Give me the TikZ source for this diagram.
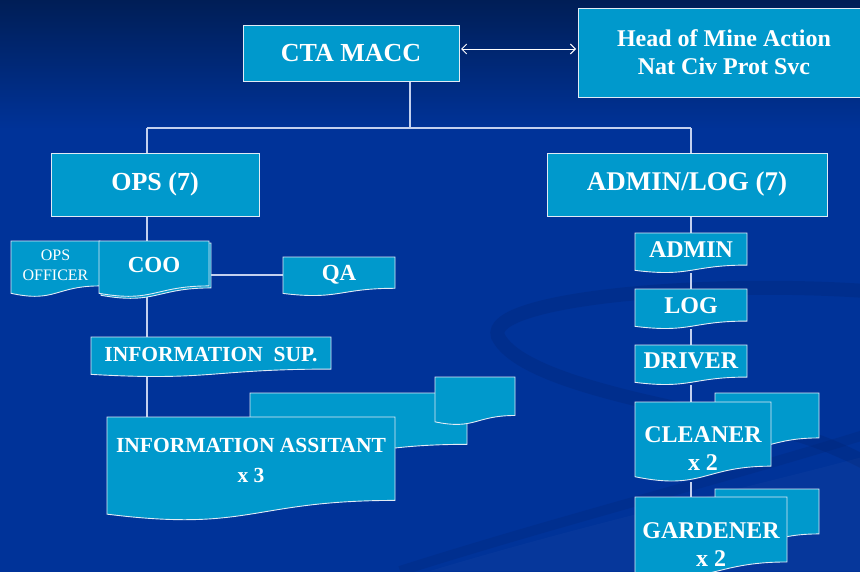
\documentclass[tikz,border=0pt]{standalone}
\usepackage{fontspec}
\setmainfont{Liberation Serif}
\usetikzlibrary{arrows.meta,calc}
\definecolor{boxblue}{RGB}{0,153,204}
\definecolor{bgtop}{RGB}{0,30,86}
\definecolor{bgblue}{RGB}{0,51,153}
\definecolor{conncol}{RGB}{195,208,238}
\definecolor{edgecol}{RGB}{225,235,245}
\definecolor{swdark}{RGB}{0,36,115}
\pgfdeclareverticalshading{bgshade}{100bp}{color(0bp)=(bgblue); color(63.6bp)=(bgblue); color(75bp)=(bgtop); color(100bp)=(bgtop)}
\pgfdeclarelayer{back}
\pgfdeclarelayer{bg}
\pgfsetlayers{back,bg,main}
\tikzset{
  box/.style={fill=boxblue, draw=edgecol, line width=0.9pt},
  holder/.style={anchor=north west, inner sep=0pt, outer sep=0pt, text=white, align=center},
  big/.style={font=\bfseries\fontsize{26}{30}\selectfont},
  bigger/.style={font=\bfseries\fontsize{27}{30}\selectfont},
  mid/.style={font=\bfseries\fontsize{24}{28}\selectfont},
  med/.style={font=\bfseries\fontsize{23}{28}\selectfont},
  small/.style={font=\bfseries\fontsize{21.5}{30}\selectfont},
  tiny/.style={font=\fontsize{16}{20}\selectfont},
  lbl/.style={text=white, align=center, inner sep=0pt},
  conn/.style={draw=conncol, line width=1.2pt},
  arr/.style={draw=white, line width=1pt, {Straight Barb[length=5pt,width=10pt]}-{Straight Barb[length=5pt,width=10pt]}},
}
\newcommand\docpath[1]{\draw[box] (#1.north west) -- (#1.north east) -- ($(#1.north east)!0.802!(#1.south east)$) .. controls ($(#1.north)!0.802!(#1.south)$) and ($(#1.north)!1.108!(#1.south)$) .. ($(#1.north west)!0.934!(#1.south west)$) -- cycle;}
\begin{document}
\begin{tikzpicture}[x=1pt,y=-1pt]
\useasboundingbox (0,0) rectangle (860,571);
\clip (0,0) rectangle (860,571);

% rectangle boxes
\node[holder,big,box,minimum width=216pt,minimum height=56pt] (cta) at (243,25) {CTA MACC};
\node[holder,mid,box,minimum width=292pt,minimum height=89pt] (head) at (578,8) {Head of Mine Action\\Nat Civ Prot Svc};
\node[holder,big,box,minimum width=208pt,minimum height=63pt] (ops) at (51,153) {OPS (7)};
\node[holder,bigger,box,minimum width=280pt,minimum height=63pt] (adminlog) at (547,153) {ADMIN/LOG (7)};

% document-shaped boxes (shapes drawn on bg layer)
\node[holder,minimum width=89pt,minimum height=56pt,label={[lbl,tiny,yshift=4pt]center:OPS\\OFFICER}] (opsoff) at (11,241) {};
\node[holder,minimum width=110pt,minimum height=56pt] (cooback) at (101,243) {};
\node[holder,minimum width=110pt,minimum height=56pt,label={[lbl,med,yshift=4pt]center:COO}] (coo) at (99,241) {};
\node[holder,minimum width=112pt,minimum height=39pt,label={[lbl,med,yshift=2pt]center:QA}] (qa) at (283,257) {};
\node[holder,minimum width=240pt,minimum height=40pt,label={[lbl,small,yshift=2pt]center:INFORMATION\ \ SUP.}] (infosup) at (91,337) {};
\node[holder,minimum width=217pt,minimum height=64pt] (infoamid) at (250,393) {};
\node[holder,minimum width=80pt,minimum height=48pt] (infoasmall) at (435,377) {};
\node[holder,minimum width=288pt,minimum height=104pt,label={[lbl,small,yshift=9pt]center:INFORMATION ASSITANT\\x 3}] (infoa) at (107,417) {};

\node[holder,minimum width=112pt,minimum height=40pt,label={[lbl,mid,yshift=3pt]center:ADMIN}] (admin) at (635,233) {};
\node[holder,minimum width=112pt,minimum height=40pt,label={[lbl,mid,yshift=3pt]center:LOG}] (log) at (635,289) {};
\node[holder,minimum width=112pt,minimum height=40pt,label={[lbl,mid,yshift=4pt]center:DRIVER}] (driver) at (635,345) {};
\node[holder,minimum width=104pt,minimum height=56pt] (cleanback) at (715,393) {};
\node[holder,minimum width=136pt,minimum height=80pt,label={[lbl,mid,yshift=-7pt]center:CLEANER\\x 2}] (cleaner) at (635,402) {};
\node[holder,minimum width=104pt,minimum height=56pt] (gardback) at (715,489) {};
\node[holder,minimum width=152pt,minimum height=81pt,label={[lbl,mid,yshift=-7pt]center:GARDENER\\x 2}] (gardener) at (635,497) {};

\coordinate (j0) at (410,128);
\coordinate (jl) at (147,128);
\coordinate (jr) at (691,128);

\begin{pgfonlayer}{back}
  \shade[shading=bgshade] (0,0) rectangle (860,571);
  \draw[swdark, line width=14pt, opacity=0.3, line cap=round]
    (880,292) .. controls (700,278) and (470,300) .. (500,340)
    .. controls (525,378) and (640,402) .. (760,425)
    .. controls (820,438) and (850,455) .. (880,470);
  \draw[swdark, line width=10pt, opacity=0.25]
    (400,571) .. controls (560,520) and (720,480) .. (880,430);
  \fill[white, opacity=0.025] (430,571) .. controls (600,520) and (740,490) .. (870,455) -- (870,571) -- cycle;
\end{pgfonlayer}

\begin{pgfonlayer}{bg}
  % connectors
  \draw[arr, shorten <=2pt, shorten >=2pt] ([yshift=4pt]cta.east) -- ([yshift=4pt]cta.east -| head.west);
  \draw[conn] (cta.south -| j0) -- (j0);
  \draw[conn] (jl) -- (jr);
  \draw[conn] (jl) -- (jl |- ops.north);
  \draw[conn] (jr) -- (jr |- adminlog.north);
  \draw[conn] (ops.south -| jl) -- (coo.north -| jl);
  \draw[conn] (coo.south -| jl) -- (infosup.north -| jl);
  \draw[conn] (infosup.south -| jl) -- (infoa.north -| jl);
  \draw[conn] ([yshift=-4pt]cooback.east) -- ([yshift=-4pt]cooback.east -| qa.west);
  \draw[conn] (adminlog.south -| jr) -- (admin.north -| jr);
  \draw[conn] (admin.south -| jr) -- (log.north -| jr);
  \draw[conn] (log.south -| jr) -- (driver.north -| jr);
  \draw[conn] (driver.south -| jr) -- (cleaner.north -| jr);
  \draw[conn] (cleaner.south -| jr) -- (gardener.north -| jr);
  % shapes
  \docpath{opsoff}
  \docpath{cooback}
  \docpath{coo}
  \docpath{qa}
  \docpath{infosup}
  \docpath{infoamid}
  \docpath{infoasmall}
  \docpath{infoa}
  \docpath{admin}
  \docpath{log}
  \docpath{driver}
  \docpath{cleanback}
  \docpath{cleaner}
  \docpath{gardback}
  \docpath{gardener}
\end{pgfonlayer}
\end{tikzpicture}
\end{document}
